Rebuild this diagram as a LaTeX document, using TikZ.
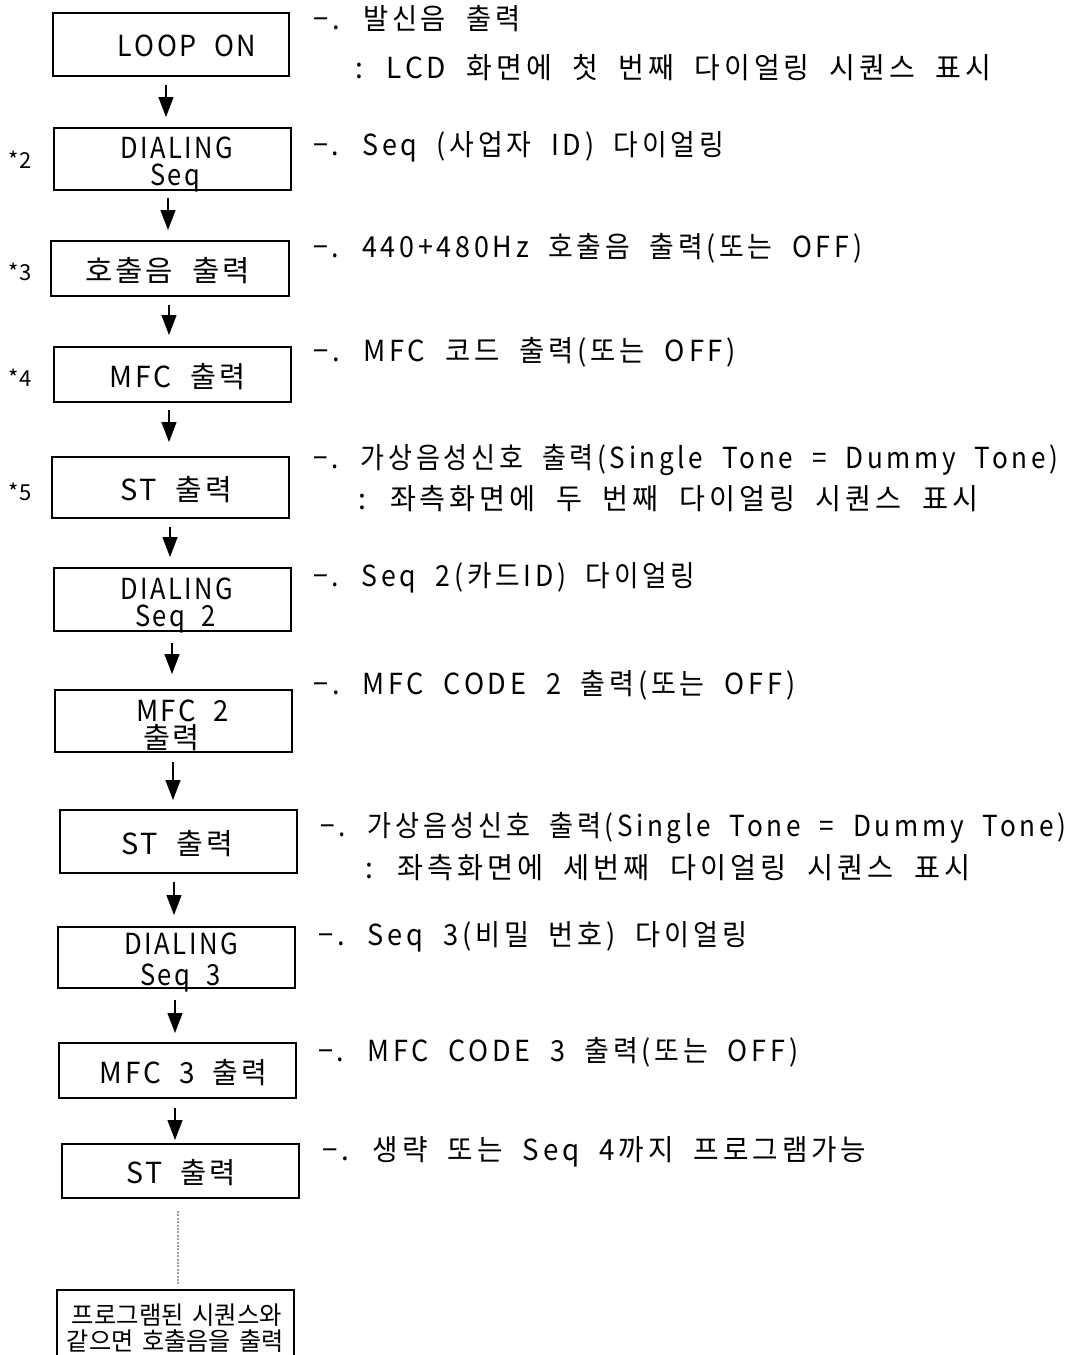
\documentclass[tikz,border=0pt]{standalone}
\usepackage{fontspec}
\setmainfont{Noto Sans CJK KR}[WordSpace=2]
\newfontfamily\tightkr{Noto Sans CJK KR}[WordSpace=1.6]
\usetikzlibrary{arrows.meta}
\newcommand\Rt[2]{\resizebox{#1pt}{\height}{\addfontfeatures{LetterSpace=14}#2}}
\newcommand\Bt[4][2]{\hbox{\kern#2pt\raisebox{-#1pt}[\height][\depth]{\resizebox{#3pt}{\height}{\addfontfeatures{LetterSpace=10}#4}}\kern-#2pt}}
\newcommand\Bs[3]{\hbox{\kern#1pt\raisebox{-2pt}[\height][\depth]{\resizebox{#2pt}{\height}{#3}}\kern-#1pt}}
\begin{document}
\begin{tikzpicture}[x=1pt,y=-1pt,
  box/.style={draw, line width=2.6pt, inner sep=0pt, outer sep=0pt, font=\fontsize{29}{27}\selectfont},
  one/.style={text height=21pt, text depth=0pt},
  two/.style={align=center},
  rt/.style={anchor=west, inner sep=0pt, text height=21pt, text depth=0pt, font=\fontsize{29}{29}\selectfont},
  star/.style={inner sep=0pt, font=\fontsize{22}{22}\selectfont},
  arr/.style={line width=1.3pt, -{Triangle[width=15pt,length=20pt]}},
  dots/.style={draw=gray!75, line width=1.1pt, dash pattern=on 2pt off 1.4pt}]
\useasboundingbox (0,0) rectangle (1078,1355);
\clip (0,0) rectangle (1078,1355);
\fill[white] (0,0) rectangle (1078,1355);

% boxes
\node[box,one,minimum width=236pt,minimum height=63pt] (b1) at (171,44.5) {\Bt[1]{16}{138}{LOOP ON}};
\node[box,two,minimum width=237pt,minimum height=62pt] (b2) at (172.5,159) {\Bt[5]{4}{113}{DIALING}\\\Bt[5]{2.5}{50}{Seq}};
\node[box,one,minimum width=238pt,minimum height=55pt] (b3) at (170,268.5) {\Bt{-2.5}{165}{호출음 출력}};
\node[box,one,minimum width=237pt,minimum height=55pt] (b4) at (172.5,374.5) {\Bt{5}{135}{MFC 출력}};
\node[box,one,minimum width=237pt,minimum height=61pt] (b5) at (170.5,487.5) {\Bt{5.5}{112}{ST 출력}};
\node[box,two,minimum width=237pt,minimum height=63pt] (b6) at (172.5,599.5) {\Bt[6]{4}{113}{DIALING}\\\Bt[6]{3}{81}{Seq 2}};
\node[box,two,minimum width=237pt,minimum height=62pt] (b7) at (173.5,721) {\Bt[4]{9}{93}{MFC 2}\\\Bt[4]{-2}{57}{출력}};
\node[box,one,minimum width=237pt,minimum height=63pt] (b8) at (178.5,841.5) {\Bt{-1.5}{112}{ST 출력}};
\node[box,two,minimum width=237pt,minimum height=61pt] (b9) at (176.5,957.5) {\Bt[5]{4.5}{114}{DIALING}\\[4pt]\Bt[5]{4}{81}{Seq 3}};
\node[box,one,minimum width=237pt,minimum height=55pt] (b10) at (177.5,1070.5) {\Bt{6}{167}{MFC 3 출력}};
\node[box,one,minimum width=237pt,minimum height=54pt] (b11) at (180.5,1171) {\Bt{0.5}{110}{ST 출력}};
\node[box,two,minimum width=237pt,minimum height=72pt,font=\tightkr\fontsize{25}{26}\selectfont] (b12) at (175.5,1326) {\Bs{1.5}{210}{프로그램된 시퀀스와}\\\Bs{0}{217}{같으면 호출음을 출력}};

% star labels
\node[star] (s2) at (20,160) {*2};
\node[star] (s3) at (20,272) {*3};
\node[star] (s4) at (20,378) {*4};
\node[star] (s5) at (20,492) {*5};

% right-hand notes
\node[rt] (r1) at (313,19) {\Rt{207}{−. 발신음 출력}};
\node[rt] (r1b) at (355,68) {\Rt{636}{: LCD 화면에 첫 번째 다이얼링 시퀀스 표시}};
\node[rt] (r2) at (313,145) {\Rt{411}{−. Seq (사업자 ID) 다이얼링}};
\node[rt] (r3) at (313,247) {\Rt{549}{−. 440+480Hz 호출음 출력(또는 OFF)}};
\node[rt] (r4) at (313,351) {\Rt{423}{−. MFC 코드 출력(또는 OFF)}};
\node[rt] (r5) at (313,458) {\Rt{745}{−. 가상음성신호 출력(Single Tone = Dummy Tone)}};
\node[rt] (r5b) at (358,499) {\Rt{620}{: 좌측화면에 두 번째 다이얼링 시퀀스 표시}};
\node[rt] (r6) at (313,576) {\Rt{382}{−. Seq 2(카드ID) 다이얼링}};
\node[rt] (r7) at (313,684) {\Rt{482}{−. MFC CODE 2 출력(또는 OFF)}};
\node[rt] (r8) at (320,826) {\Rt{746}{−. 가상음성신호 출력(Single Tone = Dummy Tone)}};
\node[rt] (r8b) at (365,868) {\Rt{605}{: 좌측화면에 세번째 다이얼링 시퀀스 표시}};
\node[rt] (r9) at (318,935) {\Rt{429}{−. Seq 3(비밀 번호) 다이얼링}};
\node[rt] (r10) at (318,1051) {\Rt{480}{−. MFC CODE 3 출력(또는 OFF)}};
\node[rt] (r11) at (322,1150) {\Rt{544}{−. 생략 또는 Seq 4까지 프로그램가능}};

% arrow columns
\coordinate (a1) at (166,0);
\coordinate (a2) at (168,0);
\coordinate (a3) at (169,0);
\coordinate (a4) at (169,0);
\coordinate (a5) at (170,0);
\coordinate (a6) at (172,0);
\coordinate (a7) at (173,0);
\coordinate (a8) at (174,0);
\coordinate (a9) at (175,0);
\coordinate (a10) at (175,0);
\coordinate (a11) at (178,0);

\draw[arr, shorten <=9pt, shorten >=11pt] (b1.south -| a1) -- (b2.north -| a1);
\draw[arr, shorten <=8pt, shorten >=11pt] (b2.south -| a2) -- (b3.north -| a2);
\draw[arr, shorten <=9pt, shorten >=12pt] (b3.south -| a3) -- (b4.north -| a3);
\draw[arr, shorten <=8pt, shorten >=15pt] (b4.south -| a4) -- (b5.north -| a4);
\draw[arr, shorten <=9pt, shorten >=11pt] (b5.south -| a5) -- (b6.north -| a5);
\draw[arr, shorten <=12pt, shorten >=16pt] (b6.south -| a6) -- (b7.north -| a6);
\draw[arr, shorten <=10pt, shorten >=10pt] (b7.south -| a7) -- (b8.north -| a7);
\draw[arr, shorten <=9pt, shorten >=12pt] (b8.south -| a8) -- (b9.north -| a8);
\draw[arr, shorten <=12pt, shorten >=10pt] (b9.south -| a9) -- (b10.north -| a9);
\draw[arr, shorten <=10pt, shorten >=4pt] (b10.south -| a10) -- (b11.north -| a10);
\draw[dots, shorten <=13pt, shorten >=5pt] (b11.south -| a11) -- (b12.north -| a11);
\end{tikzpicture}
\end{document}
